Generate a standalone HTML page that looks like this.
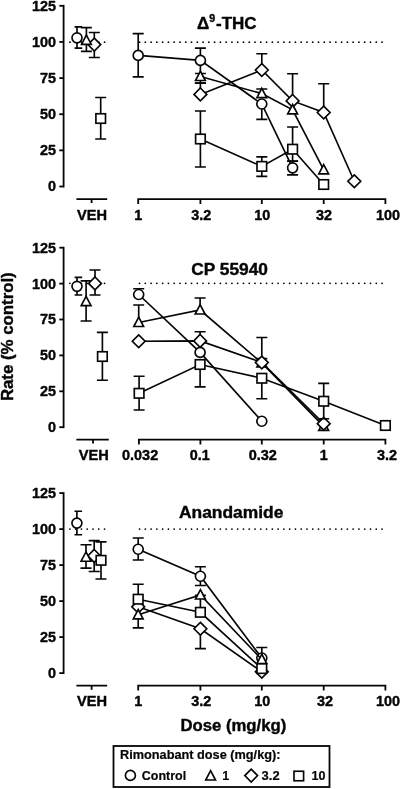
<!DOCTYPE html>
<html lang="en"><head><meta charset="utf-8"><title>Rimonabant antagonism figure</title>
<style>
html,body{margin:0;padding:0;background:#fff;}
body{width:400px;height:789px;overflow:hidden;}
svg{display:block;will-change:transform;}
text{font-family:"Liberation Sans", Arial, Helvetica, sans-serif;font-weight:bold;fill:#050505;stroke:#050505;stroke-width:0.4px;stroke-linejoin:round;}
.l{fill:none;stroke:#050505;stroke-width:1.65;}
.m{fill:#fff;stroke:#050505;stroke-width:1.65;stroke-linejoin:miter;}
.ax{fill:none;stroke:#050505;stroke-width:1.8;}
.dot{fill:none;stroke:#000;stroke-width:1.75;stroke-dasharray:0.01 5.763;stroke-linecap:round;}
.tk{font-size:14.4px;}
.tt{font-size:17px;}
.lg{font-size:12.5px;stroke-width:0.2px;}
</style></head><body>
<svg width="400" height="789" viewBox="0 0 400 789">
<rect width="400" height="789" fill="#fff"/>
<path d="M63.6 4.8999999999999995V187.4" class="ax"/>
<path d="M59.3 5.80H63.6" class="ax"/>
<text x="56.1" y="10.70" class="tk" text-anchor="end">125</text>
<path d="M59.3 41.94H63.6" class="ax"/>
<text x="56.1" y="46.84" class="tk" text-anchor="end">100</text>
<path d="M59.3 78.08H63.6" class="ax"/>
<text x="56.1" y="82.98" class="tk" text-anchor="end">75</text>
<path d="M59.3 114.22H63.6" class="ax"/>
<text x="56.1" y="119.12" class="tk" text-anchor="end">50</text>
<path d="M59.3 150.36H63.6" class="ax"/>
<text x="56.1" y="155.26" class="tk" text-anchor="end">25</text>
<path d="M59.3 186.50H63.6" class="ax"/>
<text x="56.1" y="191.40" class="tk" text-anchor="end">0</text>
<path d="M76.4 199.1H107.2M91.6 199.1V203.1" class="ax"/>
<text x="77.0" y="219.7" class="tk" textLength="30" lengthAdjust="spacingAndGlyphs">VEH</text>
<path d="M138.2 199.1H385.4M138.2 199.1V203.1M200.4 199.1V203.1M261.8 199.1V203.1M323.7 199.1V203.1M385.4 199.1V203.1" class="ax" stroke-linecap="square"/>
<text x="138.2" y="219.7" class="tk" text-anchor="middle">1</text>
<text x="201.20000000000002" y="219.7" class="tk" text-anchor="middle">3.2</text>
<text x="262.3" y="219.7" class="tk" text-anchor="middle">10</text>
<text x="324.09999999999997" y="219.7" class="tk" text-anchor="middle">32</text>
<text x="388.0" y="219.7" class="tk" text-anchor="middle">100</text>
<path d="M69.9 42.2H105.5" class="dot"/>
<path d="M139.55 42.2H382.9" class="dot"/>
<text x="197.1" y="29.2" class="tt">&#916;<tspan dy="-6.8" font-size="10.6">9</tspan><tspan dy="6.8" dx="0.8">-THC</tspan></text>
<path d="M138.2 55.4L200.4 60.4L261.8 104L292.6 167.8" class="l"/>
<path d="M77 37.8V26.9M74.60 26.9H82.20" class="l"/>
<path d="M77 37.8V48.1M74.60 48.1H82.20" class="l"/>
<path d="M138.2 55.4V33.6M132.70 33.6H143.70" class="l"/>
<path d="M138.2 55.4V76.9M132.70 76.9H143.70" class="l"/>
<path d="M200.4 60.4V48.1M194.90 48.1H205.90" class="l"/>
<path d="M200.4 60.4V73.5M194.90 73.5H205.90" class="l"/>
<path d="M261.8 104V119.4M256.30 119.4H267.30" class="l"/>
<path d="M292.6 167.8V161M287.10 161H298.10" class="l"/>
<path d="M292.6 167.8V174.9M287.10 174.9H298.10" class="l"/>
<circle cx="77" cy="37.8" r="5.0" class="m"/>
<circle cx="138.2" cy="55.4" r="5.0" class="m"/>
<circle cx="200.4" cy="60.4" r="5.0" class="m"/>
<circle cx="261.8" cy="104" r="5.0" class="m"/>
<circle cx="292.6" cy="167.8" r="5.0" class="m"/>
<path d="M200.4 94.4L261.8 70L292.6 100.9L323.7 112.5L354.3 181.25" class="l"/>
<path d="M94.3 44.6V32.5M88.80 32.5H99.80" class="l"/>
<path d="M94.3 44.6V57.5M88.80 57.5H99.80" class="l"/>
<path d="M200.4 94.4V83.1M194.90 83.1H205.90" class="l"/>
<path d="M261.8 70V53.75M256.30 53.75H267.30" class="l"/>
<path d="M292.6 100.9V73.75M287.10 73.75H298.10" class="l"/>
<path d="M323.7 112.5V83.75M318.20 83.75H329.20" class="l"/>
<path d="M94.3 38.2L100.7 44.6L94.3 51.0L87.89999999999999 44.6Z" class="m"/>
<path d="M200.4 88.0L206.8 94.4L200.4 100.80000000000001L194.0 94.4Z" class="m"/>
<path d="M261.8 63.6L268.2 70L261.8 76.4L255.4 70Z" class="m"/>
<path d="M292.6 94.5L299.0 100.9L292.6 107.30000000000001L286.20000000000005 100.9Z" class="m"/>
<path d="M323.7 106.1L330.09999999999997 112.5L323.7 118.9L317.3 112.5Z" class="m"/>
<path d="M354.3 174.85L360.7 181.25L354.3 187.65L347.90000000000003 181.25Z" class="m"/>
<path d="M200.4 76.5L261.8 93.6L292.6 109.8L323.7 169.9" class="l"/>
<path d="M86.4 40.4V27.6M80.90 27.6H91.90" class="l"/>
<path d="M86.4 40.4V51.3M80.90 51.3H91.90" class="l"/>
<path d="M200.4 76.5V83.1M194.90 83.1H205.90" class="l"/>
<path d="M261.8 93.6V89M256.30 89H267.30" class="l"/>
<path d="M86.4 35.1L91.30000000000001 44.4L81.5 44.4Z" class="m"/>
<path d="M200.4 71.2L205.3 80.5L195.5 80.5Z" class="m"/>
<path d="M261.8 88.3L266.7 97.6L256.90000000000003 97.6Z" class="m"/>
<path d="M292.6 104.5L297.5 113.8L287.70000000000005 113.8Z" class="m"/>
<path d="M323.7 164.6L328.59999999999997 173.9L318.8 173.9Z" class="m"/>
<path d="M200.4 139L261.8 166.4L292.6 149.2L323.7 184.5" class="l"/>
<path d="M100.7 118.5V97.5M95.20 97.5H106.20" class="l"/>
<path d="M100.7 118.5V139M95.20 139H106.20" class="l"/>
<path d="M200.4 139V111M194.90 111H205.90" class="l"/>
<path d="M200.4 139V167M194.90 167H205.90" class="l"/>
<path d="M261.8 166.4V156.8M256.30 156.8H267.30" class="l"/>
<path d="M261.8 166.4V176.4M256.30 176.4H267.30" class="l"/>
<path d="M292.6 149.2V127M287.10 127H298.10" class="l"/>
<path d="M292.6 149.2V161.2M287.10 161.2H298.10" class="l"/>
<rect x="95.90" y="113.75" width="9.6" height="9.5" class="m"/>
<rect x="195.60" y="134.25" width="9.6" height="9.5" class="m"/>
<rect x="257.00" y="161.65" width="9.6" height="9.5" class="m"/>
<rect x="287.80" y="144.45" width="9.6" height="9.5" class="m"/>
<rect x="318.90" y="179.75" width="9.6" height="9.5" class="m"/>
<path d="M63.6 246.79999999999998V428.09999999999997" class="ax"/>
<path d="M59.3 247.70H63.6" class="ax"/>
<text x="56.1" y="252.60" class="tk" text-anchor="end">125</text>
<path d="M59.3 283.60H63.6" class="ax"/>
<text x="56.1" y="288.50" class="tk" text-anchor="end">100</text>
<path d="M59.3 319.50H63.6" class="ax"/>
<text x="56.1" y="324.40" class="tk" text-anchor="end">75</text>
<path d="M59.3 355.40H63.6" class="ax"/>
<text x="56.1" y="360.30" class="tk" text-anchor="end">50</text>
<path d="M59.3 391.30H63.6" class="ax"/>
<text x="56.1" y="396.20" class="tk" text-anchor="end">25</text>
<path d="M59.3 427.20H63.6" class="ax"/>
<text x="56.1" y="432.10" class="tk" text-anchor="end">0</text>
<path d="M76.4 439.6H108.8M93.0 439.6V443.6" class="ax"/>
<text x="78.7" y="460.0" class="tk" textLength="30" lengthAdjust="spacingAndGlyphs">VEH</text>
<path d="M138.9 439.6H385.4M138.9 439.6V443.6M200.4 439.6V443.6M261.8 439.6V443.6M323.7 439.6V443.6M385.4 439.6V443.6" class="ax" stroke-linecap="square"/>
<text x="140.1" y="460.0" class="tk" text-anchor="middle" textLength="36.2" lengthAdjust="spacingAndGlyphs">0.032</text>
<text x="199.8" y="460.0" class="tk" text-anchor="middle">0.1</text>
<text x="262.8" y="460.0" class="tk" text-anchor="middle" textLength="28.2" lengthAdjust="spacingAndGlyphs">0.32</text>
<text x="323.7" y="460.0" class="tk" text-anchor="middle">1</text>
<text x="386.9" y="460.0" class="tk" text-anchor="middle">3.2</text>
<path d="M69.9 283.3H105.5" class="dot"/>
<path d="M139.55 283.3H382.9" class="dot"/>
<text x="191.3" y="275" class="tt" textLength="76.7" lengthAdjust="spacingAndGlyphs">CP 55940</text>
<path d="M138.7 294.5L200.1 352.4L261.8 421.25" class="l"/>
<path d="M77 286.3V277.4M74.60 277.4H82.20" class="l"/>
<path d="M77 286.3V295M74.60 295H82.20" class="l"/>
<path d="M138.7 294.5V288.75M133.20 288.75H144.20" class="l"/>
<circle cx="77" cy="286.3" r="5.0" class="m"/>
<circle cx="138.7" cy="294.5" r="5.0" class="m"/>
<circle cx="200.1" cy="352.4" r="5.0" class="m"/>
<circle cx="261.8" cy="421.25" r="5.0" class="m"/>
<path d="M138.7 322.5L200.1 310L261.8 363L323.7 426.4" class="l"/>
<path d="M86.1 301.6V280.8M80.60 280.8H91.60" class="l"/>
<path d="M86.1 301.6V321M80.60 321H91.60" class="l"/>
<path d="M138.7 322.5V305M133.20 305H144.20" class="l"/>
<path d="M200.1 310V298M194.60 298H205.60" class="l"/>
<path d="M261.8 363V358.6M256.30 358.6H267.30" class="l"/>
<path d="M86.1 296.3L91.0 305.6L81.19999999999999 305.6Z" class="m"/>
<path d="M138.7 317.2L143.6 326.5L133.79999999999998 326.5Z" class="m"/>
<path d="M200.1 304.7L205.0 314.0L195.2 314.0Z" class="m"/>
<path d="M261.8 357.7L266.7 367.0L256.90000000000003 367.0Z" class="m"/>
<path d="M323.7 421.09999999999997L328.59999999999997 430.4L318.8 430.4Z" class="m"/>
<path d="M138.7 341.25L200.1 340.9L261.8 362.5L323.7 423.7" class="l"/>
<path d="M95 283.4V270M89.50 270H100.50" class="l"/>
<path d="M95 283.4V295M89.50 295H100.50" class="l"/>
<path d="M200.1 340.9V331.75M194.60 331.75H205.60" class="l"/>
<path d="M261.8 362.5V337.5M256.30 337.5H267.30" class="l"/>
<path d="M95 277.0L101.4 283.4L95 289.79999999999995L88.6 283.4Z" class="m"/>
<path d="M138.7 334.85L145.1 341.25L138.7 347.65L132.29999999999998 341.25Z" class="m"/>
<path d="M200.1 334.5L206.5 340.9L200.1 347.29999999999995L193.7 340.9Z" class="m"/>
<path d="M261.8 356.1L268.2 362.5L261.8 368.9L255.4 362.5Z" class="m"/>
<path d="M323.7 417.3L330.09999999999997 423.7L323.7 430.09999999999997L317.3 423.7Z" class="m"/>
<path d="M139.1 393.3L200.1 364.5L261.8 378.25L323.7 401.25L385.4 425.5" class="l"/>
<path d="M102.4 356.5V332.4M96.90 332.4H107.90" class="l"/>
<path d="M102.4 356.5V380.2M96.90 380.2H107.90" class="l"/>
<path d="M139.1 393.3V376.25M133.60 376.25H144.60" class="l"/>
<path d="M139.1 393.3V410M133.60 410H144.60" class="l"/>
<path d="M200.1 364.5V386.8M194.60 386.8H205.60" class="l"/>
<path d="M261.8 378.25V398.75M256.30 398.75H267.30" class="l"/>
<path d="M323.7 401.25V383.4M318.20 383.4H329.20" class="l"/>
<path d="M323.7 401.25V418.7M318.20 418.7H329.20" class="l"/>
<rect x="97.60" y="351.75" width="9.6" height="9.5" class="m"/>
<rect x="134.30" y="388.55" width="9.6" height="9.5" class="m"/>
<rect x="195.30" y="359.75" width="9.6" height="9.5" class="m"/>
<rect x="257.00" y="373.50" width="9.6" height="9.5" class="m"/>
<rect x="318.90" y="396.50" width="9.6" height="9.5" class="m"/>
<rect x="380.60" y="420.75" width="9.6" height="9.5" class="m"/>
<path d="M63.6 492.20000000000005V674.0" class="ax"/>
<path d="M59.3 493.10H63.6" class="ax"/>
<text x="56.1" y="498.00" class="tk" text-anchor="end">125</text>
<path d="M59.3 529.10H63.6" class="ax"/>
<text x="56.1" y="534.00" class="tk" text-anchor="end">100</text>
<path d="M59.3 565.10H63.6" class="ax"/>
<text x="56.1" y="570.00" class="tk" text-anchor="end">75</text>
<path d="M59.3 601.10H63.6" class="ax"/>
<text x="56.1" y="606.00" class="tk" text-anchor="end">50</text>
<path d="M59.3 637.10H63.6" class="ax"/>
<text x="56.1" y="642.00" class="tk" text-anchor="end">25</text>
<path d="M59.3 673.10H63.6" class="ax"/>
<text x="56.1" y="678.00" class="tk" text-anchor="end">0</text>
<path d="M76.4 685.7H107.2M91.6 685.7V689.7" class="ax"/>
<text x="77.0" y="706.0" class="tk" textLength="30" lengthAdjust="spacingAndGlyphs">VEH</text>
<path d="M138.2 685.7H385.4M138.2 685.7V689.7M200.4 685.7V689.7M261.8 685.7V689.7M323.7 685.7V689.7M385.4 685.7V689.7" class="ax" stroke-linecap="square"/>
<text x="138.2" y="706.0" class="tk" text-anchor="middle">1</text>
<text x="201.20000000000002" y="706.0" class="tk" text-anchor="middle">3.2</text>
<text x="262.3" y="706.0" class="tk" text-anchor="middle">10</text>
<text x="324.9" y="706.0" class="tk" text-anchor="middle">32</text>
<text x="388.0" y="706.0" class="tk" text-anchor="middle">100</text>
<path d="M69.9 529.0H105.5" class="dot"/>
<path d="M139.55 529.0H382.9" class="dot"/>
<text x="179" y="518" class="tt" textLength="104.4" lengthAdjust="spacingAndGlyphs">Anandamide</text>
<path d="M138.2 549.25L200.4 576.25L261.8 658" class="l"/>
<path d="M76.9 523.1V511.25M74.50 511.25H82.10" class="l"/>
<path d="M76.9 523.1V534.75M74.50 534.75H82.10" class="l"/>
<path d="M138.2 549.25V538M132.70 538H143.70" class="l"/>
<path d="M138.2 549.25V560M132.70 560H143.70" class="l"/>
<path d="M200.4 576.25V566.75M194.90 566.75H205.90" class="l"/>
<path d="M200.4 576.25V585.5M194.90 585.5H205.90" class="l"/>
<path d="M261.8 658V647.5M256.30 647.5H267.30" class="l"/>
<circle cx="76.9" cy="523.1" r="5.0" class="m"/>
<circle cx="138.2" cy="549.25" r="5.0" class="m"/>
<circle cx="200.4" cy="576.25" r="5.0" class="m"/>
<circle cx="261.8" cy="658" r="5.0" class="m"/>
<path d="M138.2 606.8L200.4 628.75L261.8 671.75" class="l"/>
<path d="M94.2 555.9V540.6M88.70 540.6H99.70" class="l"/>
<path d="M94.2 555.9V571.5M88.70 571.5H99.70" class="l"/>
<path d="M200.4 628.75V648.6M194.90 648.6H205.90" class="l"/>
<path d="M94.2 549.5L100.60000000000001 555.9L94.2 562.3L87.8 555.9Z" class="m"/>
<path d="M138.2 600.4L144.6 606.8L138.2 613.1999999999999L131.79999999999998 606.8Z" class="m"/>
<path d="M200.4 622.35L206.8 628.75L200.4 635.15L194.0 628.75Z" class="m"/>
<path d="M261.8 665.35L268.2 671.75L261.8 678.15L255.4 671.75Z" class="m"/>
<path d="M138.2 614.8L200.4 595L261.8 659.5" class="l"/>
<path d="M86 557.2V544.75M80.50 544.75H91.50" class="l"/>
<path d="M86 557.2V568.1M80.50 568.1H91.50" class="l"/>
<path d="M138.2 614.8V627.8M132.70 627.8H143.70" class="l"/>
<path d="M200.4 595V595.3M194.90 595.3H205.90" class="l"/>
<path d="M200.4 599V608" class="l"/>
<path d="M86 551.9000000000001L90.9 561.2L81.1 561.2Z" class="m"/>
<path d="M138.2 609.5L143.1 618.8L133.29999999999998 618.8Z" class="m"/>
<path d="M200.4 589.7L205.3 599.0L195.5 599.0Z" class="m"/>
<path d="M261.8 654.2L266.7 663.5L256.90000000000003 663.5Z" class="m"/>
<path d="M138.2 599.2L200.4 612.3L261.8 668.6" class="l"/>
<path d="M101 560.3V541.9M95.50 541.9H106.50" class="l"/>
<path d="M101 560.3V579M95.50 579H106.50" class="l"/>
<path d="M138.2 599.2V584.2M132.70 584.2H143.70" class="l"/>
<rect x="96.20" y="555.55" width="9.6" height="9.5" class="m"/>
<rect x="133.40" y="594.45" width="9.6" height="9.5" class="m"/>
<rect x="195.60" y="607.55" width="9.6" height="9.5" class="m"/>
<rect x="257.00" y="663.85" width="9.6" height="9.5" class="m"/>
<text transform="translate(12.7 401.1) rotate(-90)" textLength="128.8" lengthAdjust="spacingAndGlyphs" style="font-size:17px">Rate (% control)</text>
<text x="180.4" y="731" textLength="105.9" lengthAdjust="spacingAndGlyphs" style="font-size:17px">Dose (mg/kg)</text>
<rect x="113.5" y="746" width="216" height="41" fill="#fff" stroke="#050505" stroke-width="1.8"/>
<text x="120" y="758.5" class="lg" textLength="160.5" lengthAdjust="spacingAndGlyphs">Rimonabant dose (mg/kg):</text>
<circle cx="130.4" cy="775.4" r="5.0" class="m"/>
<text x="141.8" y="779.6" class="lg" textLength="44.4" lengthAdjust="spacingAndGlyphs">Control</text>
<path d="M210.6 770.7L215.5 780.0L205.7 780.0Z" class="m"/>
<text x="222.3" y="779.6" class="lg">1</text>
<path d="M251.2 769.2L257.59999999999997 775.6L251.2 782.0L244.79999999999998 775.6Z" class="m"/>
<text x="261.6" y="779.6" class="lg" textLength="18" lengthAdjust="spacingAndGlyphs">3.2</text>
<rect x="294.00" y="771.25" width="9.6" height="9.5" class="m"/>
<text x="311.6" y="779.6" class="lg">10</text>
</svg></body></html>
